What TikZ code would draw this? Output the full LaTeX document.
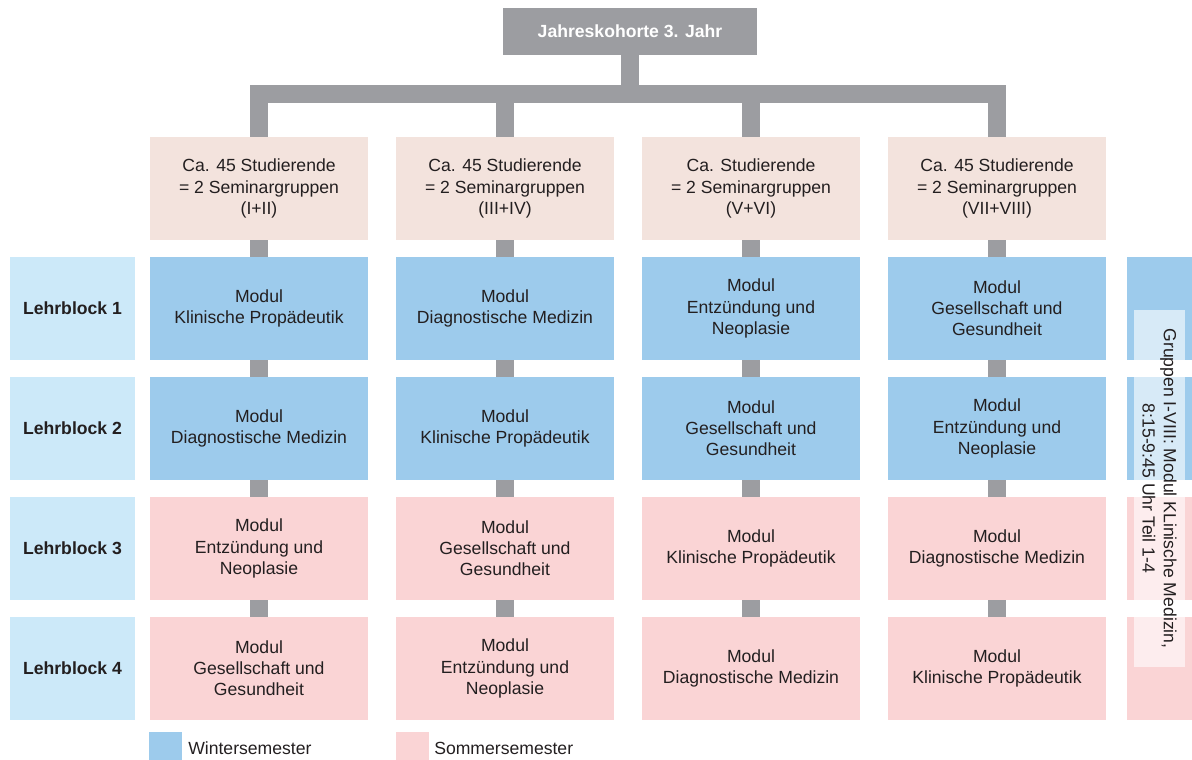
\documentclass[tikz,border=0pt]{standalone}
\usepackage{fontspec}
\setmainfont{Liberation Sans}
\usepackage{xcolor}
\definecolor{barGray}{HTML}{9C9DA1}
\definecolor{headFill}{HTML}{F3E3DD}
\definecolor{blockFill}{HTML}{CCE9F9}
\definecolor{winterFill}{HTML}{9DCBEC}
\definecolor{summerFill}{HTML}{FAD4D5}
\definecolor{textDark}{HTML}{231F20}

\begin{document}
\begin{tikzpicture}[x=0.75pt,y=-0.75pt,
  every node/.style={font=\fontsize{13.2}{15.8}\selectfont,text=textDark,align=center,inner sep=0pt},
  cohort/.style={fill=barGray,text=white,font=\fontsize{13.2}{15.8}\selectfont\bfseries,minimum width=190.5pt,minimum height=35.25pt},
  head/.style={fill=headFill,minimum width=163.5pt,minimum height=77.25pt},
  lblock/.style={fill=blockFill,font=\fontsize{13.2}{15.8}\selectfont\bfseries,minimum width=93.75pt,minimum height=77.25pt},
  winter/.style={fill=winterFill,minimum width=163.5pt,minimum height=77.25pt},
  summer/.style={fill=summerFill,minimum width=163.5pt,minimum height=77.25pt},
  strip/.style={minimum width=48.75pt,minimum height=77.25pt},
  swatch/.style={minimum width=24.75pt,minimum height=21pt},
  bar/.style={draw=barGray,line width=13pt}]
\useasboundingbox (0,0) rectangle (1192,760);

% cohort and seminar groups
\node[cohort] (top) at (630,31.5) {Jahreskohorte 3. Jahr};
\coordinate (fork) at (630,94);
\node[head] (h1) at (259,188.5) {Ca. 45 Studierende\\= 2 Seminargruppen\\(I+II)};
\node[head] (h2) at (505,188.5) {Ca. 45 Studierende\\= 2 Seminargruppen\\(III+IV)};
\node[head] (h3) at (751,188.5) {Ca. Studierende\\= 2 Seminargruppen\\(V+VI)};
\node[head] (h4) at (997,188.5) {Ca. 45 Studierende\\= 2 Seminargruppen\\(VII+VIII)};

% Lehrblock labels
\node[lblock] (l1) at (72.5,308.5) {Lehrblock 1};
\node[lblock] (l2) at (72.5,428.5) {Lehrblock 2};
\node[lblock] (l3) at (72.5,548.5) {Lehrblock 3};
\node[lblock] (l4) at (72.5,668.5) {Lehrblock 4};

% Lehrblock 1
\node[winter] (m11) at (259,308.5) {Modul\\Klinische Propädeutik};
\node[winter] (m12) at (505,308.5) {Modul\\Diagnostische Medizin};
\node[winter] (m13) at (751,308.5) {Modul\\Entzündung und\\Neoplasie};
\node[winter] (m14) at (997,308.5) {Modul\\Gesellschaft und\\Gesundheit};
% Lehrblock 2
\node[winter] (m21) at (259,428.5) {Modul\\Diagnostische Medizin};
\node[winter] (m22) at (505,428.5) {Modul\\Klinische Propädeutik};
\node[winter] (m23) at (751,428.5) {Modul\\Gesellschaft und\\Gesundheit};
\node[winter] (m24) at (997,428.5) {Modul\\Entzündung und\\Neoplasie};
% Lehrblock 3
\node[summer] (m31) at (259,548.5) {Modul\\Entzündung und\\Neoplasie};
\node[summer] (m32) at (505,548.5) {Modul\\Gesellschaft und\\Gesundheit};
\node[summer] (m33) at (751,548.5) {Modul\\Klinische Propädeutik};
\node[summer] (m34) at (997,548.5) {Modul\\Diagnostische Medizin};
% Lehrblock 4
\node[summer] (m41) at (259,668.5) {Modul\\Gesellschaft und\\Gesundheit};
\node[summer] (m42) at (505,668.5) {Modul\\Entzündung und\\Neoplasie};
\node[summer] (m43) at (751,668.5) {Modul\\Diagnostische Medizin};
\node[summer] (m44) at (997,668.5) {Modul\\Klinische Propädeutik};

% right strip
\node[strip,fill=winterFill] (r1) at (1159.5,308.5) {};
\node[strip,fill=winterFill] (r2) at (1159.5,428.5) {};
\node[strip,fill=summerFill] (r3) at (1159.5,548.5) {};
\node[strip,fill=summerFill] (r4) at (1159.5,668.5) {};
\node[fill=white,fill opacity=0.6,text opacity=1,rotate=-90,minimum width=267.75pt,minimum height=38.25pt] (kmed) at (1159.5,488.5)
  {Gruppen I-VIII: Modul KLinische Medizin,\\8:15-9:45 Uhr Teil 1-4};

% tree
\draw[bar] (top.south) -- (fork);
\draw[bar,line cap=rect] (h1 |- fork) -- (h4 |- fork);
\draw[bar] (h1 |- fork) -- (h1.north);
\draw[bar] (h2 |- fork) -- (h2.north);
\draw[bar] (h3 |- fork) -- (h3.north);
\draw[bar] (h4 |- fork) -- (h4.north);

\draw[bar] (h1.south) -- (m11.north);
\draw[bar] (m11.south) -- (m21.north);
\draw[bar] (m21.south) -- (m31.north);
\draw[bar] (m31.south) -- (m41.north);
\draw[bar] (h2.south) -- (m12.north);
\draw[bar] (m12.south) -- (m22.north);
\draw[bar] (m22.south) -- (m32.north);
\draw[bar] (m32.south) -- (m42.north);
\draw[bar] (h3.south) -- (m13.north);
\draw[bar] (m13.south) -- (m23.north);
\draw[bar] (m23.south) -- (m33.north);
\draw[bar] (m33.south) -- (m43.north);
\draw[bar] (h4.south) -- (m14.north);
\draw[bar] (m14.south) -- (m24.north);
\draw[bar] (m24.south) -- (m34.north);
\draw[bar] (m34.south) -- (m44.north);

% legend
\node[swatch,fill=winterFill] (kw) at (165.5,746) {};
\node[anchor=west] (lw) at (188,748) {Wintersemester};
\node[swatch,fill=summerFill] (ks) at (412,746) {};
\node[anchor=west] (ls) at (434,748) {Sommersemester};
\end{tikzpicture}
\end{document}
